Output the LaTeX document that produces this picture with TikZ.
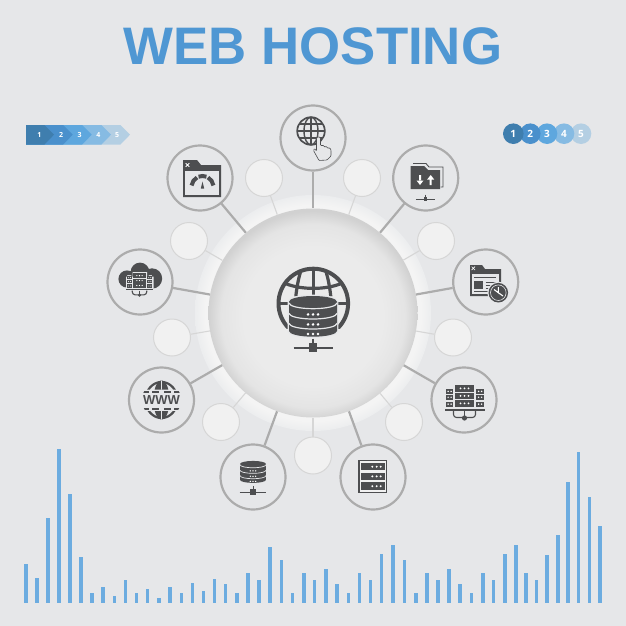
\documentclass[tikz,border=0pt]{standalone}
\usepackage{fontspec}
\setmainfont{Liberation Sans}
\newfontfamily\digitfont{Open Sans}
\definecolor{bgc}{HTML}{E6E7E9}
\definecolor{darkc}{HTML}{4D4E50}
\definecolor{ringc}{HTML}{ACACAC}
\definecolor{thinc}{HTML}{D6D6D6}
\definecolor{smallc}{HTML}{F1F1F1}
\definecolor{titlec}{HTML}{4F97D3}
\definecolor{barc}{HTML}{6CACE0}
\definecolor{pa}{HTML}{3F7EAE}
\definecolor{pb}{HTML}{4A90CC}
\definecolor{pc}{HTML}{5EA7DE}
\definecolor{pd}{HTML}{86BBE3}
\definecolor{pe}{HTML}{B4CFE3}
\pgfdeclareradialshading{hubshade}{\pgfpoint{0bp}{-1.2bp}}{%
  rgb(0bp)=(0.925,0.925,0.925);
  rgb(17bp)=(0.92,0.92,0.92);
  rgb(22bp)=(0.895,0.895,0.895);
  rgb(25bp)=(0.82,0.82,0.82);
  rgb(50bp)=(0.78,0.78,0.78)}
\pgfdeclareradialshading{ringshade}{\pgfpointorigin}{%
  rgb(0bp)=(0.955,0.955,0.955);
  rgb(23bp)=(0.955,0.955,0.955);
  rgb(25bp)=(0.925,0.93,0.935);
  rgb(50bp)=(0.92,0.92,0.92)}
\tikzset{
  iconring/.style={circle,draw=ringc,line width=2.2pt,fill=bgc,minimum size=65pt,inner sep=0pt},
  smalldisc/.style={circle,draw=thinc,line width=1pt,fill=smallc,minimum size=37pt,inner sep=0pt},
  hubdisc/.style={circle,minimum size=209pt,inner sep=0pt,shading=hubshade},
  thick link/.style={draw=ringc,line width=2.2pt},
  thin link/.style={draw=thinc,line width=1.1pt},
  pagenum/.style={text=white,font=\digitfont\bfseries\fontsize{7}{7}\selectfont,inner sep=0pt},
  pagecirc/.style={circle,minimum size=20.6pt,inner sep=0pt,text=white,font=\digitfont\bfseries\fontsize{10}{10}\selectfont},
  pics/dbstack/.style={code={
    \draw[bgc,line width=#1*2.4,fill=bgc] (-24,0) arc[start angle=180,end angle=360,x radius=24,y radius=5.7] -- (24,29.3) arc[start angle=0,end angle=180,x radius=24,y radius=5.7] -- cycle;
    \fill[darkc] (-24,0) arc[start angle=180,end angle=360,x radius=24,y radius=5.7] -- (24,29.3) arc[start angle=0,end angle=180,x radius=24,y radius=5.7] -- cycle;
    \draw[bgc,line width=#1] (-24,1.3) arc[start angle=180,end angle=0,x radius=24,y radius=5.7];
    \draw[bgc,line width=#1] (-24,11.6) arc[start angle=180,end angle=0,x radius=24,y radius=5.7];
    \draw[bgc,line width=#1] (-24,21.6) arc[start angle=180,end angle=0,x radius=24,y radius=5.7];
    \foreach \yy in {12.7,22.7,32.3} \foreach \xx in {-5,0,5} \fill[white] (\xx,\yy) circle[radius=1.4];
  }},
  pics/netlink/.style={code={
    \draw[darkc,line width=#1] (0,-9) -- (0,0) (-19.5,0) -- (19.5,0);
    \fill[darkc] (-4,-4.5) rectangle (4,4.5);
  }},
  pics/farm/.style={code={
    \foreach \ya/\yb in {-13/-6.3,-5.3/1,2/8.7} {
      \fill[darkc] (-9.5,\ya) rectangle (9.5,\yb);
      \foreach \xx in {-4,0,4} \fill[white] (\xx,{(\ya+\yb)/2}) circle[radius=1];
    }
    \foreach \cx in {-14.9,15.6} \foreach \ya/\yb in {-9/-4.3,-3.5/2,3.5/8.7} {
      \fill[darkc] ({\cx-3.8},\ya) rectangle ({\cx+3.8},\yb);
      \foreach \xx in {-1.5,1.5} \fill[white] ({\cx+\xx},{(\ya+\yb)/2}) circle[radius=.8];
    }
    \fill[darkc] (-20,11) rectangle (20.5,12.7);
    \draw[darkc,line width=1.1pt,rounded corners=3pt] (-11,13) -- (-11,19.5) -- (11,19.5) -- (11,13);
    \draw[darkc,line width=1.1pt] (0,13) -- (0,20);
    \fill[darkc] (0,20) circle[radius=2.6];
  }},
}
\begin{document}
\begin{tikzpicture}[x=1pt,y=1pt,yscale=-1]
\useasboundingbox (0,0) rectangle (626,626);
\fill[bgc] (0,0) rectangle (626,626);

% title
\node (title) at (313,46.5) [text=titlec,font=\bfseries\fontsize{52.8}{52.8}\selectfont,inner sep=0pt] {WEB HOSTING};

% arrow pager
\foreach \t/\c in {130/pe,111/pd,91.7/pc,72.7/pb,54/pa}
  \fill[\c] (26,125) -- ({\t-9.5},125) -- (\t,134.7) -- ({\t-9.5},144.5) -- (26,144.5) -- cycle;
\node[pagenum] (a1) at (39.3,134.7) {1};
\node[pagenum] (a2) at (61,134.7) {2};
\node[pagenum] (a3) at (79.7,134.7) {3};
\node[pagenum] (a4) at (98.3,134.7) {4};
\node[pagenum] (a5) at (117,134.7) {5};

% circle pager
\node[pagecirc,fill=pe] (b5) at (581,133.7) {5};
\node[pagecirc,fill=pd] (b4) at (564,133.7) {4};
\node[pagecirc,fill=pc] (b3) at (547,133.7) {3};
\node[pagecirc,fill=pb] (b2) at (530.3,133.7) {2};
\node[pagecirc,fill=pa] (b1) at (513.3,133.7) {1};

% ring
\node[circle,minimum size=236pt,inner sep=0pt,shading=ringshade] (ring) at (313,313) {};

% hub
\node[hubdisc] (hub) at (313,313) {};

% small discs
\foreach \n/\p in {s1/{264,178},s2/{362,178},s3/{436,241},s4/{453,337.5},s5/{404,422},s6/{313,455.5},s7/{221,422},s8/{172,337.5},s9/{189,241}}
  \node[smalldisc] (\n) at (\p) {};
\foreach \n in {s1,s2,s3,s4,s5,s6,s7,s8,s9}
  \draw[thin link] (\n) -- (hub);

% icon rings
\foreach \n/\p in {c1/{313,138},c2/{425.7,178},c3/{485.7,282},c4/{464,400},c5/{373,477},c6/{253,477},c7/{161.5,400},c8/{140,282},c9/{200,178}}
  \node[iconring] (\n) at (\p) {};
\foreach \n in {c1,c2,c3,c4,c5,c6,c7,c8,c9}
  \draw[thick link] (\n) -- (hub);

% bars
\foreach \x/\t in {26/564.3,37/578.3,48/517.7,59/449,70/494,81/556.7,92/593,103/587,114.3/596.3,125.3/580,136.7/593,147.7/588.7,159/598.3,170/587,181.3/593,192.3/583.3,203.3/590.7,214.3/579.3,225.7/584.3,237/593,248/572.7,259/580,270/547.3,281.3/559.7,292.7/593,304/572.7,314.7/580,326/568.7,337/584.3,348.7/593,359.7/572.7,370.7/580,381.7/554.3,393/545.3,404.3/559.7,416/593,427/572.7,438/580,449/568.7,460/584.3,471.7/593,483/572.7,493.7/580,505/554.3,516/545.3,526/572.7,536.3/580,547/555,558/535,568/482.3,578.7/452.3,589.3/497.3,600/526}
  \fill[barc] ({\x-1.75},\t) rectangle ({\x+1.75},603.3);

% central icon: globe + database + link
\begin{scope}[shift={(313.3,303.5)}]
  \clip (-40,-40) rectangle (40,24.5);
  \draw[darkc,line width=4pt] (0,0) circle[radius=34.8];
  \draw[darkc,line width=3.2pt] (0,-35) -- (0,-9);
  \draw[darkc,line width=3.2pt] (-13,-31) .. controls (-15,-24) and (-16.5,-16) .. (-17.5,-7);
  \draw[darkc,line width=3.2pt] (13,-31) .. controls (15,-24) and (16.5,-16) .. (17.5,-7);
  \draw[darkc,line width=3.2pt] (-28,-20) .. controls (-12,-13.5) and (12,-13.5) .. (28,-20);
  \draw[darkc,line width=3.2pt] (-34,0) -- (-25,0) (25,0) -- (34,0);
\end{scope}
\pic[yscale=-1] at (313,301.7) {dbstack={1.2pt}};
\pic[yscale=-1] at (313,347.7) {netlink={1.7pt}};

% icon 1: globe and pointer
\begin{scope}[shift={(311,131)}]
  \draw[darkc,line width=1.7pt] (0,0) circle[radius=13.8];
  \draw[darkc,line width=1.4pt] (0,0) ellipse[x radius=7,y radius=13.8];
  \draw[darkc,line width=1.4pt] (0,-14) -- (0,14) (-14,0) -- (14,0) (-12,-7) -- (12,-7) (-12,7) -- (12,7);
\end{scope}
\draw[darkc,line width=.6pt,fill=bgc,rounded corners=.8pt] (316.5,151) -- (316.5,138) -- (318.5,136.5) -- (320.5,138) -- (320.5,145.5) -- (324,145.5) -- (324,147) -- (327,146.5) -- (327,148) -- (330,148) -- (331,150) -- (331,156) -- (327,160) -- (319,160.5) -- (313.5,150.5) -- (314.5,148.5) -- cycle;

% icon 2: folder with arrows
\draw[darkc,line width=.9pt] (413,163.5) -- (426,163.5) -- (429,167) -- (443,167) -- (443,187) -- (440.5,187);
\fill[darkc] (410.7,166) -- (424,166) -- (428,170) -- (440,170) -- (440,189) -- (410.7,189) -- cycle;
\fill[white] (419,175) rectangle (421,181) (416.5,180.5) -- (423.5,180.5) -- (420,185) -- cycle;
\fill[white] (429.7,179) rectangle (431.7,185) (427.2,179.5) -- (434.2,179.5) -- (430.7,175) -- cycle;
\pic[xscale=.49,yscale=-.49] at (425.5,199) {netlink={1pt}};

% icon 3: window with clock
\fill[darkc] (470,265) -- (482,265) -- (485,269) -- (501,269) -- (501,296) -- (470,296) -- cycle;
\fill[bgc] (472,274) rectangle (499,294);
\draw[white,line width=.7pt] (471.7,266.7) -- (475,270) (475,266.7) -- (471.7,270);
\fill[darkc] (474,280.6) rectangle (483.3,289.3);
\draw[darkc,line width=1pt] (474,277) -- (496,277) (485.5,282) -- (496,282) (485.5,285) -- (492,285) (485.5,288) -- (490,288) (474,291.5) -- (490,291.5);
\fill[bgc] (498.3,292.7) circle[radius=11];
\fill[darkc] (498.3,292.7) circle[radius=9.8];
\draw[bgc,line width=.6pt] (498.3,292.7) circle[radius=7.8];
\draw[white,line width=1.1pt] (498.3,292.7) -- (498.3,287) (498.3,292.7) -- (503,296) (498.3,292.7) -- (494,289.5);

% icon 4: server farm
\pic[yscale=-1] at (464.5,398) {farm};

% icon 5: rack
\fill[darkc] (358.3,460) rectangle (387.3,493.3);
\fill[smallc] (359.7,461.4) rectangle (385.9,491.9);
\foreach \ya/\yb in {463.3/470,472.7/480,482.3/490} {
  \fill[darkc] (361,\ya) rectangle (385,\yb);
  \foreach \xx in {372.3,376.7,380.7} \fill[white] (\xx,{(\ya+\yb)/2}) circle[radius=1.1];
}

% icon 6: database
\pic[xscale=.54,yscale=-.54] at (253,464) {dbstack={.7pt}};
\pic[xscale=.69,yscale=-.69] at (253,492) {netlink={1pt}};

% icon 7: WWW globe
\begin{scope}
  \clip (161.5,400) circle[radius=19.5];
  \begin{scope}
    \clip (140,378) rectangle (183,389.5) (140,411) rectangle (183,422);
    \fill[darkc] (161.5,400) ellipse[x radius=8,y radius=20];
    \draw[darkc,line width=2.2pt] (161.5,400) ellipse[x radius=16,y radius=18];
    \draw[bgc,line width=.9pt] (161.5,378) -- (161.5,422);
  \end{scope}
  \foreach \ya in {390.6,408} \foreach \xa/\xb in {142/149,152/159,164/171,174/181}
    \fill[darkc] (\xa,\ya) rectangle (\xb,{\ya+2.4});
\end{scope}
\node (wwwlabel) at (161.5,400) [text=darkc,font=\bfseries\fontsize{13}{13}\selectfont,inner sep=0pt] {WWW};

% icon 8: cloud with servers
\fill[darkc] (140,272) circle[radius=9.4] (127,279) circle[radius=8.6] (152,278.5) circle[radius=10.2] (127,275) rectangle (152,288);
\fill[bgc] (132.5,272) rectangle (147,291.5) (126,276.5) rectangle (153.5,291.5);
\pic[xscale=.66,yscale=-.66] at (139.5,282) {farm};

% icon 9: window with gauge
\fill[darkc] (183,160) -- (197,160) -- (201,165) -- (221,165) -- (221,197) -- (183,197) -- cycle;
\fill[bgc] (185,171) rectangle (219,195);
\draw[white,line width=.8pt] (185.7,163.2) -- (189.3,166.8) (189.3,163.2) -- (185.7,166.8);
\draw[darkc,line width=4pt] ([shift={(188:11)}]202.5,187) arc[start angle=188,end angle=240,radius=11];
\draw[darkc,line width=4pt] ([shift={(249:11)}]202.5,187) arc[start angle=249,end angle=291,radius=11];
\draw[darkc,line width=4pt] ([shift={(300:11)}]202.5,187) arc[start angle=300,end angle=352,radius=11];
\fill[darkc] (202.5,181.5) -- (204.2,188.5) -- (200.8,188.5) -- cycle;
\end{tikzpicture}
\end{document}
